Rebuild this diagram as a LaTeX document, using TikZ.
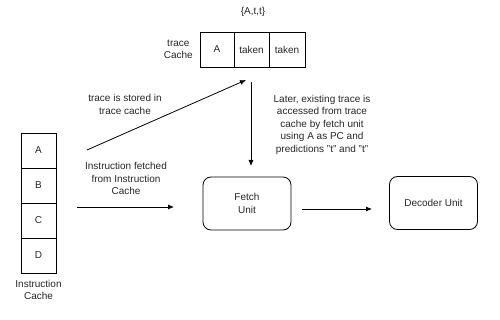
\documentclass[tikz,border=0pt]{standalone}
\usepackage{fontspec}
\setmainfont{Liberation Sans}
\usetikzlibrary{positioning, arrows.meta}
\def\Wln{0.8pt}
\def\ClrTxt{black!85}
\def\Cell{35pt}
\tikzset{
    cell/.style={
        draw, line width=\Wln, minimum width=\Cell, minimum height=\Cell,
        inner sep=0pt, outer sep=0pt, text=\ClrTxt
    },
    unit/.style={
        draw, line width=\Wln, rounded corners=8pt,
        minimum width=88pt, minimum height=53pt, align=center, text=\ClrTxt
    },
    note/.style={align=center, text=\ClrTxt, inner sep=0pt},
    flow/.style={-{Latex[length=6pt,width=5pt]}, line width=\Wln}
}

\begin{document}
\begin{tikzpicture}[x=1pt, y=-1pt, font=\fontsize{10}{12.5}\selectfont]
    \useasboundingbox (0,0) rectangle (500,320);

    % trace cache row
    \node[cell, minimum width=34pt] (tA) at (217,49.5) {A};
    \node[cell, right=0pt of tA] (tB) {taken};
    \node[cell, minimum width=36pt, right=0pt of tB] (tC) {taken};
    \node[note] (ttop) at (253,12) {\{A,t,t\}};
    \node[note, left=7pt of tA] (tlbl) {trace\\Cache};

    % instruction cache column
    \node[cell] (iA) at (38.5,150.5) {A};
    \node[cell, below=0pt of iA] (iB) {B};
    \node[cell, below=0pt of iB] (iC) {C};
    \node[cell, below=0pt of iC] (iD) {D};
    \node[note, below=7pt of iD] (ilbl) {Instruction\\Cache};

    % units
    \node[unit] (fetch) at (247,203.5) {Fetch\\Unit};
    \node[unit] (dec) at (433.5,203) {Decoder Unit};

    % free ends of connectors
    \coordinate (s1) at (87,150);
    \coordinate (e1) at (246,80);
    \coordinate (s2) at (77,207);
    \coordinate (e2) at (174,207);
    \coordinate (s3) at (251,82);
    \coordinate (e3) at (251,166);
    \coordinate (s4) at (302,209);
    \coordinate (e4) at (372,209);

    \draw[flow] (s1) -- (e1);
    \draw[flow] (s2) -- (e2);
    \draw[flow] (s3) -- (e3);
    \draw[flow] (s4) -- (e4);

    % labels
    \node[note] (lstore) at (125,104.5) {trace is stored in\\trace cache};
    \node[note] (lfetch) at (126,178.5) {Instruction fetched\\from Instruction\\Cache};
    \node[note] (llater) at (322,124.5) {Later, existing trace is\\accessed from trace\\cache by fetch unit\\using A as PC and\\predictions "t" and "t"};
\end{tikzpicture}
\end{document}
